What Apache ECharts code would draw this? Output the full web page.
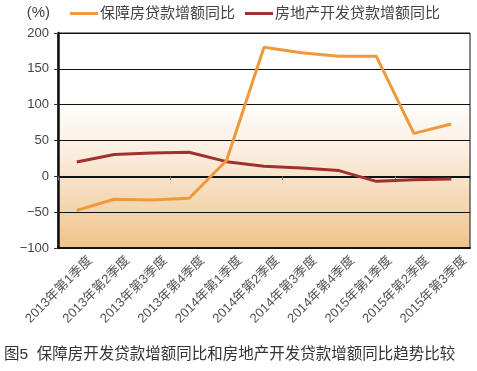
<!DOCTYPE html>
<html><head><meta charset="utf-8">
<script src="https://cdn.jsdelivr.net/npm/echarts@6/dist/echarts.min.js"></script>
<style>html,body{margin:0;padding:0;background:#fff}#c{width:477px;height:371px}</style>
</head><body><div id="c"></div>
<script>
var categories = ['2013年第1季度','2013年第2季度','2013年第3季度','2013年第4季度','2014年第1季度','2014年第2季度','2014年第3季度','2014年第4季度','2015年第1季度','2015年第2季度','2015年第3季度'];
var baozhangfang = [-47.5, -32, -33, -30.5, 22, 180, 172.5, 167.5, 167.5, 60, 73];
var fangdichan = [20, 30.5, 32.5, 33.5, 20.5, 14, 11.5, 8, -7, -4.8, -3.8];
var seriesNames = ['保障房贷款增额同比', '房地产开发贷款增额同比'];
var yTicks = {min: -100, max: 200, interval: 50};
var caption = '图5  保障房开发贷款增额同比和房地产开发贷款增额同比趋势比较';

var FONT = '"Liberation Sans", "Noto Sans CJK SC", sans-serif';
var chart = echarts.init(document.getElementById('c'));
chart.setOption({
  animation: false,
  textStyle: {fontFamily: FONT},
  legend: {
    left: 65, top: 1, itemWidth: 28, itemHeight: 3, itemGap: 10, icon: 'rect',
    textStyle: {fontSize: 15, color: '#444', fontFamily: FONT, padding: [0, 0, 0, -3]},
    data: seriesNames
  },
  title: {
    text: caption, left: -1, top: 342,
    textStyle: {fontSize: 15.5, fontWeight: 'normal', color: '#333', fontFamily: FONT}
  },
  grid: {
    left: 58, right: 7, top: 33, bottom: 123, containLabel: false,
    show: true, borderColor: '#111', borderWidth: 1,
    backgroundColor: new echarts.graphic.LinearGradient(0, 0, 0, 1, [
      {offset: 0, color: '#ffffff'},
      {offset: 0.3, color: '#ffffff'},
      {offset: 0.55, color: '#fbeee0'},
      {offset: 1, color: '#efc38a'}
    ])
  },
  xAxis: [{
    type: 'category', data: categories, boundaryGap: true, position: 'bottom',
    axisLine: {onZero: false, lineStyle: {color: '#111', width: 2}},
    axisTick: {show: false},
    axisLabel: {rotate: 45, fontSize: 13, color: '#555', margin: 24, interval: 0, fontFamily: FONT,
      padding: [0, -19, 0, 0]}
  }, {
    type: 'category', data: categories, boundaryGap: true, position: 'bottom',
    axisLine: {onZero: true, lineStyle: {color: '#111', width: 2}},
    axisTick: {show: true, length: 4, lineStyle: {color: '#777', width: 1}},
    axisLabel: {show: false}
  }],
  yAxis: {
    type: 'value', min: yTicks.min, max: yTicks.max, interval: yTicks.interval,
    name: '(%)', nameLocation: 'end', nameGap: 20,
    nameTextStyle: {fontSize: 15, color: '#444', align: 'right', verticalAlign: 'middle', padding: [0, 8, 0, 0]},
    axisLine: {show: true, lineStyle: {color: '#111', width: 2.5}},
    axisTick: {show: true, length: 4, lineStyle: {color: '#333'}},
    axisLabel: {fontSize: 13, color: '#444', margin: 9,
      formatter: function (v) { return v < 0 ? '\u2212' + (-v) : '' + v; }},
    splitLine: {show: true, lineStyle: {color: '#111', width: 1}}
  },
  series: [{
    name: seriesNames[0], type: 'line', data: baozhangfang, xAxisIndex: 0,
    symbol: 'none', lineStyle: {color: '#f0993a', width: 3}, itemStyle: {color: '#f0993a'}, z: 3
  }, {
    name: seriesNames[1], type: 'line', data: fangdichan, xAxisIndex: 0,
    symbol: 'none', lineStyle: {color: '#a1312f', width: 3}, itemStyle: {color: '#a1312f'}, z: 2
  }]
});
</script></body></html>
